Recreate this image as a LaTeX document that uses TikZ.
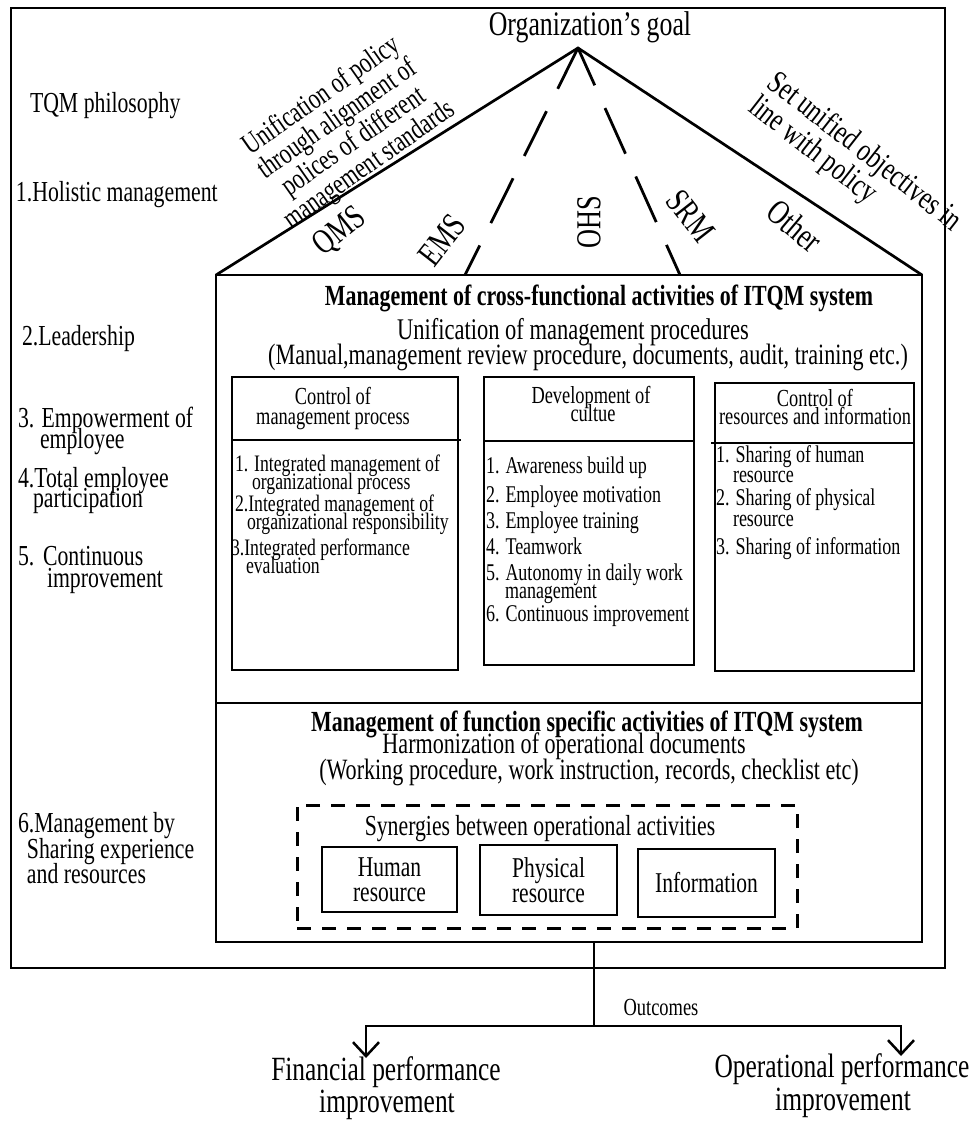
\documentclass[tikz,border=0pt]{standalone}
\usepackage{fontspec}
\setmainfont[FakeStretch=0.75]{Liberation Serif}
\usetikzlibrary{arrows.meta}
\newcommand\myfs[2]{\fontsize{#1}{#2}\selectfont}

\begin{document}
\begin{tikzpicture}[x=1pt,y=-1pt,
  line width=2.7pt,
  every node/.style={inner sep=0pt, outer sep=0pt},
  ct/.style={anchor=base},
  side/.style={anchor=base west, font=\myfs{29}{21}},
  hdr/.style={anchor=base, font=\myfs{24.5}{20}},
  itm/.style={anchor=base west, font=\myfs{24}{19}},
  itmn/.style={anchor=base west, font=\myfs{23.6}{19}},
  sub/.style={anchor=base, font=\myfs{29.5}{25}},
  ttl/.style={anchor=base, font=\bfseries\myfs{29.2}{25}},
  std/.style={font=\myfs{35}{35}},
  panel/.style={draw, line width=2.7pt},
  unitbox/.style={draw, line width=2.5pt, align=center, font=\myfs{28.7}{25}},
  roofdash/.style={line width=2.8pt, dash pattern=on 50pt off 25pt, dash phase=17pt},
  arr/.style={-{Straight Barb[length=14pt,width=26pt,line width=2.5pt]}, line width=2.5pt}
]
\useasboundingbox (0,0) rectangle (975,1121);

% outer frame
\draw (11,8) rectangle (945,968);

% ITQM house body
\node[panel, minimum width=706pt, minimum height=667pt] (house) at (569,608.5) {};
\coordinate (apex) at (578,48);
\draw[line join=miter] (house.north west) -- (apex) -- (house.north east);
\coordinate (emsfoot) at (465,275);
\coordinate (srmfoot) at (680,275);
\draw[roofdash] (emsfoot) -- (apex);
\draw[roofdash] (srmfoot) -- (apex);
\draw (216,703) -- (922,703);

% roof
\node[ct, font=\myfs{34.4}{31}] (goal) at (590,36) {Organization\char"0027 s goal};
\node[rotate=35, align=center, font=\myfs{29.5}{24}] (policy) at (346,131)
  {Unification of policy\\through alignment of\\polices of different\\management standards};
\node[rotate=-38, align=left, anchor=north west, font=\myfs{32.5}{25}] (objectives) at (780,68)
  {Set unified objectives in\\line with policy};
\node[std, rotate=39] (qms) at (340,232) {QMS};
\node[std, rotate=52] (ems) at (442,240) {EMS};
\node[std, rotate=90] (ohs) at (589,222) {OHS};
\node[std, rotate=-52] (srm) at (691,216) {SRM};
\node[std, rotate=-40] (other) at (795,226) {Other};

% TQM philosophy column
\node[side] (tqm) at (30,113) {TQM philosophy};
\node[side] (p1) at (16,201) {1.Holistic management};
\node[side] (p2) at (22,345) {2.Leadership};
\node[side] (p3a) at (18,427) {3. Empowerment of};
\node[side] (p3b) at (40,448) {employee};
\node[side] (p4a) at (18,487) {4.Total employee};
\node[side] (p4b) at (33,507) {participation};
\node[side] (p5a) at (18,565) {5.};
\node[side] (p5b) at (43,565) {Continuous};
\node[side] (p5c) at (47,587) {improvement};
\node[side] (p6a) at (18,832) {6.Management by};
\node[side] (p6b) at (27,858) {Sharing experience};
\node[side] (p6c) at (27,883) {and resources};

% cross-functional activities
\node[ttl] (crossttl) at (599,305) {Management of cross-functional activities of ITQM system};
\node[sub, font=\myfs{30}{25}] (crossa) at (573,339) {Unification of management procedures};
\node[sub] (crossb) at (588,364) {(Manual,management review procedure, documents, audit, training etc.)};

% box 1
\node[panel, minimum width=226pt, minimum height=293pt] (b1) at (345,523.5) {};
\draw (b1.west |- 0,440) -- (461,440);
\node[hdr] (b1h1) at (333,404) {Control of};
\node[hdr] (b1h2) at (333,424) {management process};
\node[itmn] (b1i1) at (235,471) {1. Integrated management of};
\node[itmn] (b1i1b) at (252,489) {organizational process};
\node[itmn] (b1i2) at (235,511) {2.Integrated management of};
\node[itmn] (b1i2b) at (247,529) {organizational responsibility};
\node[itmn] (b1i3) at (231,555) {3.Integrated performance};
\node[itmn] (b1i3b) at (246,573) {evaluation};

% box 2
\node[panel, minimum width=210pt, minimum height=288pt] (b2) at (589,521) {};
\draw (b2.west |- 0,441) -- (b2.east |- 0,441);
\node[hdr] (b2h1) at (591,403) {Development of};
\node[hdr] (b2h2) at (593,421) {cultue};
\node[itm] (b2i1) at (486,473) {1. Awareness build up};
\node[itm] (b2i2) at (486,502) {2. Employee motivation};
\node[itm] (b2i3) at (486,528) {3. Employee training};
\node[itm] (b2i4) at (486,554) {4. Teamwork};
\node[itm] (b2i5) at (486,580) {5. Autonomy in daily work};
\node[itm] (b2i5b) at (505,598) {management};
\node[itm] (b2i6) at (486,621) {6. Continuous improvement};

% box 3
\node[panel, minimum width=199pt, minimum height=288pt] (b3) at (814.5,527) {};
\draw (711,443) -- (b3.east |- 0,443);
\node[hdr] (b3h1) at (815,406) {Control of};
\node[hdr] (b3h2) at (815,424) {resources and information};
\node[itm] (b3i1) at (716,462) {1. Sharing of human};
\node[itm] (b3i1b) at (733,482) {resource};
\node[itm] (b3i2) at (716,505) {2. Sharing of physical};
\node[itm] (b3i2b) at (733,526) {resource};
\node[itm] (b3i3) at (716,554) {3. Sharing of information};

% function specific activities
\node[ttl] (functtl) at (587,731) {Management of function specific activities of ITQM system};
\node[sub] (funca) at (564,753) {Harmonization of operational documents};
\node[sub] (funcb) at (589,779) {(Working procedure, work instruction, records, checklist etc)};

\node[draw, line width=3pt, dash pattern=on 14pt off 11pt, minimum width=500pt, minimum height=123pt] (syn) at (547,866.5) {};
\node[ct, font=\myfs{29}{25}] (synttl) at (540,835) {Synergies between operational activities};
\node[unitbox, minimum width=135pt, minimum height=65pt] (human) at (389.5,879.5) {Human\\resource};
\node[unitbox, minimum width=137pt, minimum height=70pt] (phys) at (548.5,880) {Physical\\resource};
\node[unitbox, minimum width=137pt, minimum height=68pt] (info) at (706.5,883) {Information};

% outcomes
\coordinate (split) at (594,1026);
\coordinate (finTip) at (366,1058);
\coordinate (opTip) at (901,1056);
\draw (house.south -| split) -- (split);
\draw[arr] (split) -| (finTip);
\draw[arr] (split) -| (opTip);
\node[ct, font=\myfs{24.6}{22}] (outc) at (661,1015) {Outcomes};
\node[ct, font=\myfs{33.9}{30}] (fin1) at (386,1080) {Financial performance};
\node[ct, font=\myfs{33.9}{30}] (fin2) at (387,1112) {improvement};
\node[ct, font=\myfs{33.9}{30}] (op1) at (842,1077) {Operational performance};
\node[ct, font=\myfs{33.9}{30}] (op2) at (843,1110) {improvement};
\end{tikzpicture}
\end{document}
